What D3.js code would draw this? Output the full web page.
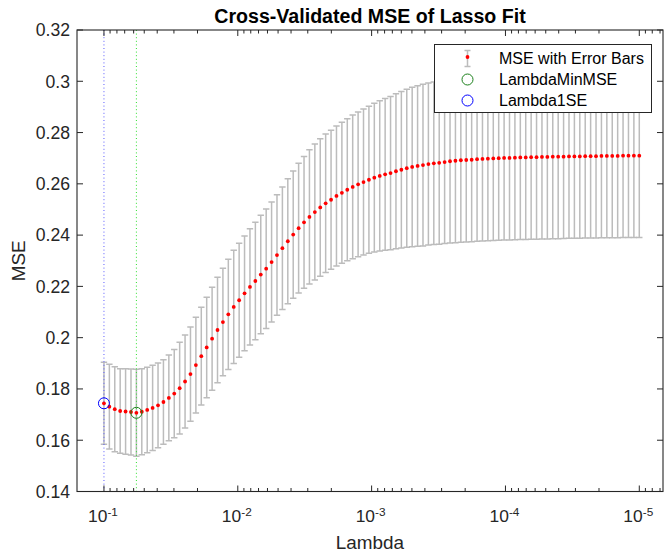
<!DOCTYPE html>
<html>
<head>
<meta charset="utf-8">
<script src="https://cdn.jsdelivr.net/npm/d3@7"></script>
<style>
  body { margin: 0; background: #fff; }
  svg text { font-family: "Liberation Sans", Arial, Helvetica, sans-serif; fill: #262626; }
</style>
</head>
<body>
<div id="chart"></div>
<script>
// lambda grid of the lasso fit (geometric, from lambdaMax down to lambdaMax * lambdaRatio)
const lambdaMax = 0.1;
const lambdaRatio = 1e-4;
const numLambda = 100;

// cross-validated MSE, one per lambda (largest lambda first)
const mse = [
  0.1744, 0.1731, 0.1721, 0.1714, 0.1712, 0.1710, 0.1707, 0.1711, 0.1718, 0.1726,
  0.1736, 0.1749, 0.1765, 0.1782, 0.1803, 0.1829, 0.1858, 0.1893, 0.1928, 0.1962,
  0.1996, 0.2030, 0.2061, 0.2091, 0.2120, 0.2146, 0.2173, 0.2198, 0.2221, 0.2246,
  0.2269, 0.2295, 0.2322, 0.2349, 0.2376, 0.2402, 0.2427, 0.2450, 0.2471, 0.2490,
  0.2508, 0.2524, 0.2538, 0.2553, 0.2565, 0.2577, 0.2588, 0.2598, 0.2607, 0.2616,
  0.2624, 0.2631, 0.2637, 0.2642, 0.2649, 0.2655, 0.2661, 0.2666, 0.2670, 0.2673,
  0.2677, 0.2680, 0.2682, 0.2685, 0.2688, 0.2690, 0.2692, 0.2693, 0.2694, 0.2696,
  0.2697, 0.2698, 0.2699, 0.2700, 0.2701, 0.2701, 0.2702, 0.2703, 0.2703, 0.2704,
  0.2704, 0.2705, 0.2705, 0.2706, 0.2706, 0.2706, 0.2707, 0.2707, 0.2707, 0.2708,
  0.2708, 0.2708, 0.2709, 0.2709, 0.2709, 0.2709, 0.2710, 0.2710, 0.2710, 0.2710
];

// standard error of the MSE
const se = [
  0.0160, 0.0165, 0.0166, 0.0165, 0.0167, 0.0168, 0.0170, 0.0168, 0.0167, 0.0166,
  0.0165, 0.0165, 0.0167, 0.0172, 0.0179, 0.0181, 0.0184, 0.0187, 0.0191, 0.0196,
  0.0201, 0.0206, 0.0210, 0.0215, 0.0221, 0.0222, 0.0224, 0.0227, 0.0229, 0.0231,
  0.0233, 0.0234, 0.0235, 0.0239, 0.0244, 0.0248, 0.0253, 0.0257, 0.0262, 0.0265,
  0.0268, 0.0270, 0.0271, 0.0273, 0.0275, 0.0277, 0.0280, 0.0282, 0.0285, 0.0287,
  0.0290, 0.0293, 0.0296, 0.0299, 0.0302, 0.0305, 0.0308, 0.0311, 0.0313, 0.0315,
  0.0316, 0.0317, 0.0318, 0.0318, 0.0319, 0.0320, 0.0320, 0.0320, 0.0320, 0.0320,
  0.0320, 0.0320, 0.0320, 0.0320, 0.0320, 0.0320, 0.0320, 0.0320, 0.0320, 0.0320,
  0.0320, 0.0320, 0.0320, 0.0320, 0.0320, 0.0319, 0.0319, 0.0319, 0.0319, 0.0319,
  0.0319, 0.0319, 0.0319, 0.0319, 0.0319, 0.0319, 0.0319, 0.0319, 0.0319, 0.0319
];

const indexMinMSE = 6; // 0-based
const index1SE = 0;

const xLimits = [0.159, 6.65e-6];
const yLimits = [0.14, 0.32];
const yTicks = [0.14, 0.16, 0.18, 0.2, 0.22, 0.24, 0.26, 0.28, 0.3, 0.32];
const xTickExps = [-1, -2, -3, -4, -5];

const legendLabels = ['MSE with Error Bars', 'LambdaMinMSE', 'Lambda1SE'];

const lambda = d3.range(numLambda).map(i => lambdaMax * Math.pow(lambdaRatio, i / (numLambda - 1)));
const points = lambda.map((l, i) => ({ lambda: l, mse: mse[i], se: se[i] }));

const width = 664;
const height = 555;
const box = { left: 77, right: 663, top: 30, bottom: 491.5 };
const axisColor = '#262626';
const barColor = '#bcbcbc';

const svg = d3.select('#chart')
  .append('svg')
  .attr('width', width)
  .attr('height', height);

const x = d3.scaleLog().domain(xLimits).range([box.left, box.right]);
const y = d3.scaleLinear().domain(yLimits).range([box.bottom, box.top]);

// error bars
const capHalf = 3.2;
const bars = svg.append('g')
  .attr('stroke', barColor)
  .attr('stroke-width', 1.5)
  .attr('fill', 'none');

bars.selectAll('path')
  .data(points)
  .enter()
  .append('path')
  .attr('d', (d) => {
    const cx = x(d.lambda);
    const yHi = y(d.mse + d.se);
    const yLo = y(d.mse - d.se);
    return `M${cx},${yHi}V${yLo}M${cx - capHalf},${yHi}H${cx + capHalf}M${cx - capHalf},${yLo}H${cx + capHalf}`;
  });

// vertical dotted lines at the chosen lambdas
svg.append('line')
  .attr('x1', x(lambda[index1SE])).attr('x2', x(lambda[index1SE]))
  .attr('y1', box.top).attr('y2', box.bottom)
  .attr('stroke', '#5a5aff')
  .attr('stroke-width', 1)
  .attr('stroke-dasharray', '1,2.6');

svg.append('line')
  .attr('x1', x(lambda[indexMinMSE])).attr('x2', x(lambda[indexMinMSE]))
  .attr('y1', box.top).attr('y2', box.bottom)
  .attr('stroke', '#2ee02e')
  .attr('stroke-width', 1)
  .attr('stroke-dasharray', '1,2.6');

// mse dots
svg.append('g')
  .selectAll('circle')
  .data(points)
  .enter()
  .append('circle')
  .attr('cx', (d) => x(d.lambda))
  .attr('cy', (d) => y(d.mse))
  .attr('r', 1.9)
  .attr('fill', '#ff0000');

// highlighted lambdas
svg.append('circle')
  .attr('cx', x(lambda[indexMinMSE]))
  .attr('cy', y(mse[indexMinMSE]))
  .attr('r', 5.5)
  .attr('fill', 'none')
  .attr('stroke', '#1a7f1a')
  .attr('stroke-width', 1);

svg.append('circle')
  .attr('cx', x(lambda[index1SE]))
  .attr('cy', y(mse[index1SE]))
  .attr('r', 5.5)
  .attr('fill', 'none')
  .attr('stroke', '#0000ff')
  .attr('stroke-width', 1);

// axes box
svg.append('rect')
  .attr('x', box.left)
  .attr('y', box.top)
  .attr('width', box.right - box.left)
  .attr('height', box.bottom - box.top)
  .attr('fill', 'none')
  .attr('stroke', axisColor)
  .attr('stroke-width', 1.1);

// x ticks (major + minor), on bottom and top, pointing inward
const majorTicks = xTickExps.map(e => Math.pow(10, e));
const minorTicks = [];
d3.range(-6, 0).forEach(e => {
  d3.range(2, 10).forEach(m => {
    const v = m * Math.pow(10, e);
    if (v <= xLimits[0] && v >= xLimits[1]) minorTicks.push(v);
  });
});

const ticks = svg.append('g').attr('stroke', axisColor).attr('stroke-width', 1);
majorTicks.forEach(v => {
  ticks.append('line').attr('x1', x(v)).attr('x2', x(v)).attr('y1', box.bottom).attr('y2', box.bottom - 6);
  ticks.append('line').attr('x1', x(v)).attr('x2', x(v)).attr('y1', box.top).attr('y2', box.top + 6);
});
minorTicks.forEach(v => {
  ticks.append('line').attr('x1', x(v)).attr('x2', x(v)).attr('y1', box.bottom).attr('y2', box.bottom - 3.5);
  ticks.append('line').attr('x1', x(v)).attr('x2', x(v)).attr('y1', box.top).attr('y2', box.top + 3.5);
});
yTicks.forEach(v => {
  ticks.append('line').attr('x1', box.left).attr('x2', box.left + 6).attr('y1', y(v)).attr('y2', y(v));
  ticks.append('line').attr('x1', box.right).attr('x2', box.right - 6).attr('y1', y(v)).attr('y2', y(v));
});

// tick labels
svg.append('g')
  .selectAll('text')
  .data(yTicks)
  .enter()
  .append('text')
  .attr('x', box.left - 7)
  .attr('y', (d) => y(d))
  .attr('dy', '0.36em')
  .attr('text-anchor', 'end')
  .attr('font-size', 17.6)
  .text((d) => d3.format('')(+d.toFixed(2)));

const xLabels = svg.append('g')
  .selectAll('text')
  .data(xTickExps)
  .enter()
  .append('text')
  .attr('x', (d) => x(Math.pow(10, d)) - 1)
  .attr('y', 521.5)
  .attr('text-anchor', 'middle')
  .attr('font-size', 17.4);
xLabels.append('tspan').text('10');
xLabels.append('tspan')
  .attr('dy', -5.5)
  .attr('font-size', 11.8)
  .text((d) => d);

// axis labels and title
svg.append('text')
  .attr('x', (box.left + box.right) / 2)
  .attr('y', 549)
  .attr('text-anchor', 'middle')
  .attr('font-size', 18.9)
  .text('Lambda');

svg.append('text')
  .attr('transform', `translate(25,${(box.top + box.bottom) / 2}) rotate(-90)`)
  .attr('text-anchor', 'middle')
  .attr('font-size', 18.9)
  .text('MSE');

svg.append('text')
  .attr('x', (box.left + box.right) / 2)
  .attr('y', 23)
  .attr('text-anchor', 'middle')
  .attr('font-size', 19.6)
  .attr('font-weight', 'bold')
  .style('fill', '#000')
  .text('Cross-Validated MSE of Lasso Fit');

// legend
const legend = svg.append('g');
legend.append('rect')
  .attr('x', 434.5)
  .attr('y', 44.5)
  .attr('width', 217)
  .attr('height', 68)
  .attr('fill', '#fff')
  .attr('stroke', axisColor)
  .attr('stroke-width', 1);

const symX = 467.5;
const rowY = [58.5, 79.5, 100.5];
legend.append('path')
  .attr('d', `M${symX},${rowY[0] - 8}V${rowY[0] + 8}M${symX - 3},${rowY[0] - 8}H${symX + 3}M${symX - 3},${rowY[0] + 8}H${symX + 3}`)
  .attr('stroke', barColor)
  .attr('stroke-width', 1.5)
  .attr('fill', 'none');
legend.append('circle').attr('cx', symX).attr('cy', rowY[0] - 1.5).attr('r', 1.9).attr('fill', '#ff0000');
legend.append('circle').attr('cx', symX).attr('cy', rowY[1]).attr('r', 5.5)
  .attr('fill', 'none').attr('stroke', '#1a7f1a');
legend.append('circle').attr('cx', symX).attr('cy', rowY[2]).attr('r', 5.5)
  .attr('fill', 'none').attr('stroke', '#0000ff');

legend.selectAll('text.lab')
  .data(legendLabels)
  .enter()
  .append('text')
  .attr('class', 'lab')
  .attr('x', 499)
  .attr('y', (d, i) => rowY[i])
  .attr('dy', '0.36em')
  .attr('font-size', 16)
  .style('fill', '#000')
  .text((d) => d);
</script>
</body>
</html>
